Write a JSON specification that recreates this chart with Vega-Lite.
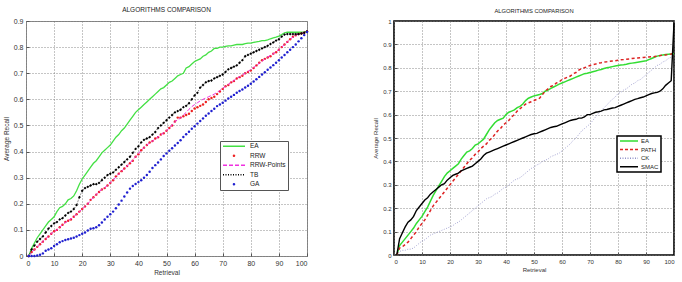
{
  "$schema": "https://vega.github.io/schema/vega-lite/v6.json",
  "background": "white",
  "padding": {"left": 2, "top": 6, "right": 0, "bottom": 0},
  "spacing": 60,
  "resolve": {"scale": {"color": "independent"}, "legend": {"color": "independent"}},
  "config": {
    "font": "Liberation Sans",
    "view": {"stroke": null},
    "title": {"fontSize": 6.5, "fontWeight": "normal", "color": "#222", "offset": 4, "font": "Liberation Sans"},
    "axis": {
      "labelFont": "Liberation Sans",
      "titleFont": "Liberation Sans",
      "labelColor": "#333",
      "titleColor": "#333",
      "titleFontWeight": "normal",
      "grid": true,
      "gridDash": [1, 2],
      "gridColor": "#777",
      "gridOpacity": 0.85,
      "domain": false,
      "tickSize": -3,
      "tickColor": "#555"
    },
    "legend": {
      "labelFont": "Liberation Sans",
      "labelColor": "#222",
      "fillColor": "#ffffff"
    }
  },
  "datasets": {
    "left": [
      {"x": 1, "EA": 0, "RRW": 0, "RRW-Points": 0, "TB": 0, "GA": 0},
      {"x": 2, "EA": 0.03, "RRW": 0.015, "RRW-Points": 0.013, "TB": 0.025, "GA": 0},
      {"x": 3, "EA": 0.05, "RRW": 0.025, "RRW-Points": 0.024, "TB": 0.04, "GA": 0},
      {"x": 4, "EA": 0.07, "RRW": 0.035, "RRW-Points": 0.034, "TB": 0.055, "GA": 0.002},
      {"x": 5, "EA": 0.085, "RRW": 0.045, "RRW-Points": 0.045, "TB": 0.065, "GA": 0.005},
      {"x": 6, "EA": 0.1, "RRW": 0.055, "RRW-Points": 0.056, "TB": 0.075, "GA": 0.01},
      {"x": 7, "EA": 0.115, "RRW": 0.065, "RRW-Points": 0.066, "TB": 0.09, "GA": 0.02},
      {"x": 8, "EA": 0.13, "RRW": 0.075, "RRW-Points": 0.076, "TB": 0.105, "GA": 0.025},
      {"x": 9, "EA": 0.14, "RRW": 0.085, "RRW-Points": 0.086, "TB": 0.115, "GA": 0.03},
      {"x": 10, "EA": 0.15, "RRW": 0.095, "RRW-Points": 0.094, "TB": 0.125, "GA": 0.038},
      {"x": 11, "EA": 0.17, "RRW": 0.1, "RRW-Points": 0.1, "TB": 0.13, "GA": 0.045},
      {"x": 12, "EA": 0.185, "RRW": 0.11, "RRW-Points": 0.11, "TB": 0.14, "GA": 0.053},
      {"x": 13, "EA": 0.19, "RRW": 0.12, "RRW-Points": 0.12, "TB": 0.145, "GA": 0.057},
      {"x": 14, "EA": 0.2, "RRW": 0.13, "RRW-Points": 0.128, "TB": 0.155, "GA": 0.061},
      {"x": 15, "EA": 0.215, "RRW": 0.135, "RRW-Points": 0.136, "TB": 0.165, "GA": 0.064},
      {"x": 16, "EA": 0.22, "RRW": 0.14, "RRW-Points": 0.142, "TB": 0.17, "GA": 0.067},
      {"x": 17, "EA": 0.23, "RRW": 0.15, "RRW-Points": 0.15, "TB": 0.18, "GA": 0.07},
      {"x": 18, "EA": 0.25, "RRW": 0.16, "RRW-Points": 0.16, "TB": 0.195, "GA": 0.075},
      {"x": 19, "EA": 0.275, "RRW": 0.17, "RRW-Points": 0.17, "TB": 0.225, "GA": 0.08},
      {"x": 20, "EA": 0.295, "RRW": 0.18, "RRW-Points": 0.18, "TB": 0.25, "GA": 0.085},
      {"x": 21, "EA": 0.31, "RRW": 0.19, "RRW-Points": 0.19, "TB": 0.26, "GA": 0.09},
      {"x": 22, "EA": 0.325, "RRW": 0.2, "RRW-Points": 0.2, "TB": 0.265, "GA": 0.098},
      {"x": 23, "EA": 0.34, "RRW": 0.215, "RRW-Points": 0.213, "TB": 0.27, "GA": 0.104},
      {"x": 24, "EA": 0.355, "RRW": 0.225, "RRW-Points": 0.225, "TB": 0.275, "GA": 0.106},
      {"x": 25, "EA": 0.365, "RRW": 0.235, "RRW-Points": 0.236, "TB": 0.275, "GA": 0.11},
      {"x": 26, "EA": 0.38, "RRW": 0.245, "RRW-Points": 0.247, "TB": 0.28, "GA": 0.118},
      {"x": 27, "EA": 0.395, "RRW": 0.255, "RRW-Points": 0.255, "TB": 0.29, "GA": 0.128},
      {"x": 28, "EA": 0.405, "RRW": 0.26, "RRW-Points": 0.262, "TB": 0.3, "GA": 0.14},
      {"x": 29, "EA": 0.415, "RRW": 0.27, "RRW-Points": 0.27, "TB": 0.31, "GA": 0.15},
      {"x": 30, "EA": 0.425, "RRW": 0.28, "RRW-Points": 0.28, "TB": 0.315, "GA": 0.16},
      {"x": 31, "EA": 0.44, "RRW": 0.29, "RRW-Points": 0.29, "TB": 0.32, "GA": 0.17},
      {"x": 32, "EA": 0.455, "RRW": 0.305, "RRW-Points": 0.303, "TB": 0.33, "GA": 0.183},
      {"x": 33, "EA": 0.465, "RRW": 0.315, "RRW-Points": 0.315, "TB": 0.34, "GA": 0.197},
      {"x": 34, "EA": 0.48, "RRW": 0.325, "RRW-Points": 0.325, "TB": 0.35, "GA": 0.212},
      {"x": 35, "EA": 0.49, "RRW": 0.335, "RRW-Points": 0.335, "TB": 0.36, "GA": 0.228},
      {"x": 36, "EA": 0.505, "RRW": 0.345, "RRW-Points": 0.345, "TB": 0.37, "GA": 0.243},
      {"x": 37, "EA": 0.52, "RRW": 0.355, "RRW-Points": 0.357, "TB": 0.38, "GA": 0.258},
      {"x": 38, "EA": 0.535, "RRW": 0.365, "RRW-Points": 0.368, "TB": 0.395, "GA": 0.268},
      {"x": 39, "EA": 0.55, "RRW": 0.38, "RRW-Points": 0.38, "TB": 0.41, "GA": 0.276},
      {"x": 40, "EA": 0.56, "RRW": 0.39, "RRW-Points": 0.392, "TB": 0.42, "GA": 0.283},
      {"x": 41, "EA": 0.57, "RRW": 0.405, "RRW-Points": 0.405, "TB": 0.435, "GA": 0.29},
      {"x": 42, "EA": 0.58, "RRW": 0.415, "RRW-Points": 0.415, "TB": 0.445, "GA": 0.3},
      {"x": 43, "EA": 0.59, "RRW": 0.425, "RRW-Points": 0.425, "TB": 0.45, "GA": 0.31},
      {"x": 44, "EA": 0.6, "RRW": 0.435, "RRW-Points": 0.433, "TB": 0.455, "GA": 0.323},
      {"x": 45, "EA": 0.61, "RRW": 0.44, "RRW-Points": 0.44, "TB": 0.465, "GA": 0.337},
      {"x": 46, "EA": 0.62, "RRW": 0.45, "RRW-Points": 0.448, "TB": 0.475, "GA": 0.348},
      {"x": 47, "EA": 0.63, "RRW": 0.455, "RRW-Points": 0.456, "TB": 0.49, "GA": 0.358},
      {"x": 48, "EA": 0.64, "RRW": 0.465, "RRW-Points": 0.464, "TB": 0.5, "GA": 0.37},
      {"x": 49, "EA": 0.645, "RRW": 0.47, "RRW-Points": 0.472, "TB": 0.51, "GA": 0.383},
      {"x": 50, "EA": 0.655, "RRW": 0.48, "RRW-Points": 0.48, "TB": 0.52, "GA": 0.393},
      {"x": 51, "EA": 0.665, "RRW": 0.49, "RRW-Points": 0.49, "TB": 0.53, "GA": 0.403},
      {"x": 52, "EA": 0.67, "RRW": 0.5, "RRW-Points": 0.502, "TB": 0.54, "GA": 0.413},
      {"x": 53, "EA": 0.68, "RRW": 0.515, "RRW-Points": 0.515, "TB": 0.55, "GA": 0.423},
      {"x": 54, "EA": 0.69, "RRW": 0.53, "RRW-Points": 0.522, "TB": 0.555, "GA": 0.433},
      {"x": 55, "EA": 0.695, "RRW": 0.53, "RRW-Points": 0.528, "TB": 0.56, "GA": 0.443},
      {"x": 56, "EA": 0.7, "RRW": 0.535, "RRW-Points": 0.54, "TB": 0.57, "GA": 0.456},
      {"x": 57, "EA": 0.72, "RRW": 0.54, "RRW-Points": 0.55, "TB": 0.575, "GA": 0.466},
      {"x": 58, "EA": 0.725, "RRW": 0.545, "RRW-Points": 0.562, "TB": 0.585, "GA": 0.476},
      {"x": 59, "EA": 0.735, "RRW": 0.555, "RRW-Points": 0.572, "TB": 0.6, "GA": 0.487},
      {"x": 60, "EA": 0.745, "RRW": 0.565, "RRW-Points": 0.58, "TB": 0.615, "GA": 0.497},
      {"x": 61, "EA": 0.75, "RRW": 0.57, "RRW-Points": 0.587, "TB": 0.625, "GA": 0.507},
      {"x": 62, "EA": 0.755, "RRW": 0.575, "RRW-Points": 0.594, "TB": 0.645, "GA": 0.517},
      {"x": 63, "EA": 0.765, "RRW": 0.58, "RRW-Points": 0.6, "TB": 0.655, "GA": 0.527},
      {"x": 64, "EA": 0.77, "RRW": 0.59, "RRW-Points": 0.605, "TB": 0.665, "GA": 0.537},
      {"x": 65, "EA": 0.78, "RRW": 0.6, "RRW-Points": 0.61, "TB": 0.67, "GA": 0.546},
      {"x": 66, "EA": 0.785, "RRW": 0.605, "RRW-Points": 0.615, "TB": 0.672, "GA": 0.555},
      {"x": 67, "EA": 0.795, "RRW": 0.61, "RRW-Points": 0.62, "TB": 0.68, "GA": 0.564},
      {"x": 68, "EA": 0.795, "RRW": 0.62, "RRW-Points": 0.627, "TB": 0.685, "GA": 0.574},
      {"x": 69, "EA": 0.8, "RRW": 0.63, "RRW-Points": 0.634, "TB": 0.69, "GA": 0.58},
      {"x": 70, "EA": 0.8, "RRW": 0.64, "RRW-Points": 0.642, "TB": 0.695, "GA": 0.587},
      {"x": 71, "EA": 0.803, "RRW": 0.65, "RRW-Points": 0.65, "TB": 0.705, "GA": 0.595},
      {"x": 72, "EA": 0.805, "RRW": 0.655, "RRW-Points": 0.657, "TB": 0.715, "GA": 0.603},
      {"x": 73, "EA": 0.805, "RRW": 0.665, "RRW-Points": 0.665, "TB": 0.72, "GA": 0.61},
      {"x": 74, "EA": 0.808, "RRW": 0.67, "RRW-Points": 0.672, "TB": 0.725, "GA": 0.617},
      {"x": 75, "EA": 0.81, "RRW": 0.68, "RRW-Points": 0.68, "TB": 0.73, "GA": 0.625},
      {"x": 76, "EA": 0.81, "RRW": 0.685, "RRW-Points": 0.687, "TB": 0.74, "GA": 0.632},
      {"x": 77, "EA": 0.81, "RRW": 0.69, "RRW-Points": 0.693, "TB": 0.75, "GA": 0.638},
      {"x": 78, "EA": 0.813, "RRW": 0.7, "RRW-Points": 0.7, "TB": 0.765, "GA": 0.645},
      {"x": 79, "EA": 0.815, "RRW": 0.705, "RRW-Points": 0.707, "TB": 0.77, "GA": 0.652},
      {"x": 80, "EA": 0.815, "RRW": 0.71, "RRW-Points": 0.714, "TB": 0.775, "GA": 0.66},
      {"x": 81, "EA": 0.818, "RRW": 0.72, "RRW-Points": 0.722, "TB": 0.78, "GA": 0.668},
      {"x": 82, "EA": 0.82, "RRW": 0.73, "RRW-Points": 0.73, "TB": 0.785, "GA": 0.677},
      {"x": 83, "EA": 0.822, "RRW": 0.74, "RRW-Points": 0.738, "TB": 0.79, "GA": 0.686},
      {"x": 84, "EA": 0.825, "RRW": 0.75, "RRW-Points": 0.746, "TB": 0.795, "GA": 0.695},
      {"x": 85, "EA": 0.825, "RRW": 0.755, "RRW-Points": 0.754, "TB": 0.8, "GA": 0.704},
      {"x": 86, "EA": 0.828, "RRW": 0.76, "RRW-Points": 0.762, "TB": 0.805, "GA": 0.713},
      {"x": 87, "EA": 0.832, "RRW": 0.765, "RRW-Points": 0.768, "TB": 0.812, "GA": 0.722},
      {"x": 88, "EA": 0.835, "RRW": 0.775, "RRW-Points": 0.775, "TB": 0.818, "GA": 0.731},
      {"x": 89, "EA": 0.838, "RRW": 0.78, "RRW-Points": 0.782, "TB": 0.825, "GA": 0.74},
      {"x": 90, "EA": 0.842, "RRW": 0.79, "RRW-Points": 0.79, "TB": 0.83, "GA": 0.75},
      {"x": 91, "EA": 0.848, "RRW": 0.8, "RRW-Points": 0.8, "TB": 0.84, "GA": 0.76},
      {"x": 92, "EA": 0.855, "RRW": 0.81, "RRW-Points": 0.81, "TB": 0.848, "GA": 0.77},
      {"x": 93, "EA": 0.857, "RRW": 0.82, "RRW-Points": 0.82, "TB": 0.85, "GA": 0.78},
      {"x": 94, "EA": 0.857, "RRW": 0.83, "RRW-Points": 0.83, "TB": 0.85, "GA": 0.79},
      {"x": 95, "EA": 0.857, "RRW": 0.84, "RRW-Points": 0.838, "TB": 0.85, "GA": 0.8},
      {"x": 96, "EA": 0.857, "RRW": 0.845, "RRW-Points": 0.845, "TB": 0.85, "GA": 0.81},
      {"x": 97, "EA": 0.857, "RRW": 0.85, "RRW-Points": 0.85, "TB": 0.85, "GA": 0.822},
      {"x": 98, "EA": 0.857, "RRW": 0.852, "RRW-Points": 0.853, "TB": 0.852, "GA": 0.834},
      {"x": 99, "EA": 0.858, "RRW": 0.855, "RRW-Points": 0.856, "TB": 0.855, "GA": 0.846},
      {"x": 100, "EA": 0.86, "RRW": 0.86, "RRW-Points": 0.86, "TB": 0.86, "GA": 0.858}
    ],
    "right": [
      {"x": 1, "EA": 0, "PATH": 0, "CK": 0, "SMAC": 0},
      {"x": 2, "EA": 0.04, "PATH": 0.03, "CK": 0.015, "SMAC": 0.07},
      {"x": 3, "EA": 0.055, "PATH": 0.035, "CK": 0.02, "SMAC": 0.095},
      {"x": 4, "EA": 0.07, "PATH": 0.045, "CK": 0.02, "SMAC": 0.12},
      {"x": 5, "EA": 0.085, "PATH": 0.055, "CK": 0.025, "SMAC": 0.14},
      {"x": 6, "EA": 0.1, "PATH": 0.07, "CK": 0.025, "SMAC": 0.15},
      {"x": 7, "EA": 0.115, "PATH": 0.085, "CK": 0.03, "SMAC": 0.165},
      {"x": 8, "EA": 0.135, "PATH": 0.1, "CK": 0.04, "SMAC": 0.19},
      {"x": 9, "EA": 0.15, "PATH": 0.12, "CK": 0.05, "SMAC": 0.205},
      {"x": 10, "EA": 0.165, "PATH": 0.135, "CK": 0.06, "SMAC": 0.22},
      {"x": 11, "EA": 0.185, "PATH": 0.15, "CK": 0.065, "SMAC": 0.235},
      {"x": 12, "EA": 0.205, "PATH": 0.17, "CK": 0.075, "SMAC": 0.245},
      {"x": 13, "EA": 0.23, "PATH": 0.19, "CK": 0.085, "SMAC": 0.26},
      {"x": 14, "EA": 0.255, "PATH": 0.21, "CK": 0.09, "SMAC": 0.27},
      {"x": 15, "EA": 0.275, "PATH": 0.225, "CK": 0.095, "SMAC": 0.28},
      {"x": 16, "EA": 0.295, "PATH": 0.24, "CK": 0.1, "SMAC": 0.29},
      {"x": 17, "EA": 0.315, "PATH": 0.255, "CK": 0.105, "SMAC": 0.3},
      {"x": 18, "EA": 0.335, "PATH": 0.27, "CK": 0.11, "SMAC": 0.305},
      {"x": 19, "EA": 0.35, "PATH": 0.285, "CK": 0.115, "SMAC": 0.32},
      {"x": 20, "EA": 0.36, "PATH": 0.3, "CK": 0.12, "SMAC": 0.33},
      {"x": 21, "EA": 0.37, "PATH": 0.315, "CK": 0.125, "SMAC": 0.34},
      {"x": 22, "EA": 0.38, "PATH": 0.33, "CK": 0.135, "SMAC": 0.345},
      {"x": 23, "EA": 0.39, "PATH": 0.345, "CK": 0.14, "SMAC": 0.35},
      {"x": 24, "EA": 0.41, "PATH": 0.36, "CK": 0.15, "SMAC": 0.36},
      {"x": 25, "EA": 0.425, "PATH": 0.375, "CK": 0.16, "SMAC": 0.365},
      {"x": 26, "EA": 0.44, "PATH": 0.39, "CK": 0.17, "SMAC": 0.37},
      {"x": 27, "EA": 0.445, "PATH": 0.405, "CK": 0.18, "SMAC": 0.375},
      {"x": 28, "EA": 0.455, "PATH": 0.415, "CK": 0.19, "SMAC": 0.38},
      {"x": 29, "EA": 0.47, "PATH": 0.43, "CK": 0.2, "SMAC": 0.39},
      {"x": 30, "EA": 0.475, "PATH": 0.44, "CK": 0.21, "SMAC": 0.4},
      {"x": 31, "EA": 0.485, "PATH": 0.455, "CK": 0.22, "SMAC": 0.41},
      {"x": 32, "EA": 0.495, "PATH": 0.465, "CK": 0.23, "SMAC": 0.425},
      {"x": 33, "EA": 0.515, "PATH": 0.475, "CK": 0.24, "SMAC": 0.435},
      {"x": 34, "EA": 0.535, "PATH": 0.49, "CK": 0.245, "SMAC": 0.44},
      {"x": 35, "EA": 0.55, "PATH": 0.5, "CK": 0.25, "SMAC": 0.445},
      {"x": 36, "EA": 0.565, "PATH": 0.515, "CK": 0.26, "SMAC": 0.45},
      {"x": 37, "EA": 0.575, "PATH": 0.53, "CK": 0.265, "SMAC": 0.455},
      {"x": 38, "EA": 0.58, "PATH": 0.54, "CK": 0.275, "SMAC": 0.46},
      {"x": 39, "EA": 0.585, "PATH": 0.555, "CK": 0.285, "SMAC": 0.465},
      {"x": 40, "EA": 0.6, "PATH": 0.565, "CK": 0.29, "SMAC": 0.47},
      {"x": 41, "EA": 0.61, "PATH": 0.575, "CK": 0.3, "SMAC": 0.475},
      {"x": 42, "EA": 0.615, "PATH": 0.59, "CK": 0.31, "SMAC": 0.48},
      {"x": 43, "EA": 0.62, "PATH": 0.6, "CK": 0.32, "SMAC": 0.485},
      {"x": 44, "EA": 0.63, "PATH": 0.615, "CK": 0.325, "SMAC": 0.49},
      {"x": 45, "EA": 0.635, "PATH": 0.625, "CK": 0.33, "SMAC": 0.495},
      {"x": 46, "EA": 0.645, "PATH": 0.635, "CK": 0.34, "SMAC": 0.5},
      {"x": 47, "EA": 0.66, "PATH": 0.645, "CK": 0.35, "SMAC": 0.505},
      {"x": 48, "EA": 0.67, "PATH": 0.65, "CK": 0.36, "SMAC": 0.51},
      {"x": 49, "EA": 0.675, "PATH": 0.655, "CK": 0.37, "SMAC": 0.515},
      {"x": 50, "EA": 0.68, "PATH": 0.66, "CK": 0.375, "SMAC": 0.518},
      {"x": 51, "EA": 0.683, "PATH": 0.665, "CK": 0.385, "SMAC": 0.52},
      {"x": 52, "EA": 0.686, "PATH": 0.67, "CK": 0.39, "SMAC": 0.525},
      {"x": 53, "EA": 0.69, "PATH": 0.685, "CK": 0.4, "SMAC": 0.53},
      {"x": 54, "EA": 0.7, "PATH": 0.7, "CK": 0.405, "SMAC": 0.535},
      {"x": 55, "EA": 0.705, "PATH": 0.71, "CK": 0.41, "SMAC": 0.54},
      {"x": 56, "EA": 0.712, "PATH": 0.72, "CK": 0.42, "SMAC": 0.545},
      {"x": 57, "EA": 0.718, "PATH": 0.725, "CK": 0.425, "SMAC": 0.548},
      {"x": 58, "EA": 0.724, "PATH": 0.735, "CK": 0.43, "SMAC": 0.55},
      {"x": 59, "EA": 0.73, "PATH": 0.74, "CK": 0.435, "SMAC": 0.555},
      {"x": 60, "EA": 0.735, "PATH": 0.75, "CK": 0.445, "SMAC": 0.56},
      {"x": 61, "EA": 0.74, "PATH": 0.755, "CK": 0.455, "SMAC": 0.565},
      {"x": 62, "EA": 0.745, "PATH": 0.76, "CK": 0.465, "SMAC": 0.57},
      {"x": 63, "EA": 0.75, "PATH": 0.765, "CK": 0.475, "SMAC": 0.575},
      {"x": 64, "EA": 0.755, "PATH": 0.775, "CK": 0.49, "SMAC": 0.578},
      {"x": 65, "EA": 0.76, "PATH": 0.78, "CK": 0.5, "SMAC": 0.58},
      {"x": 66, "EA": 0.765, "PATH": 0.79, "CK": 0.515, "SMAC": 0.585},
      {"x": 67, "EA": 0.77, "PATH": 0.797, "CK": 0.53, "SMAC": 0.585},
      {"x": 68, "EA": 0.775, "PATH": 0.8, "CK": 0.54, "SMAC": 0.59},
      {"x": 69, "EA": 0.777, "PATH": 0.805, "CK": 0.55, "SMAC": 0.6},
      {"x": 70, "EA": 0.78, "PATH": 0.81, "CK": 0.56, "SMAC": 0.6},
      {"x": 71, "EA": 0.783, "PATH": 0.813, "CK": 0.575, "SMAC": 0.605},
      {"x": 72, "EA": 0.786, "PATH": 0.816, "CK": 0.59, "SMAC": 0.61},
      {"x": 73, "EA": 0.79, "PATH": 0.82, "CK": 0.605, "SMAC": 0.612},
      {"x": 74, "EA": 0.793, "PATH": 0.822, "CK": 0.615, "SMAC": 0.615},
      {"x": 75, "EA": 0.797, "PATH": 0.825, "CK": 0.63, "SMAC": 0.62},
      {"x": 76, "EA": 0.8, "PATH": 0.826, "CK": 0.64, "SMAC": 0.622},
      {"x": 77, "EA": 0.802, "PATH": 0.828, "CK": 0.655, "SMAC": 0.625},
      {"x": 78, "EA": 0.805, "PATH": 0.829, "CK": 0.665, "SMAC": 0.628},
      {"x": 79, "EA": 0.808, "PATH": 0.83, "CK": 0.675, "SMAC": 0.63},
      {"x": 80, "EA": 0.81, "PATH": 0.832, "CK": 0.69, "SMAC": 0.635},
      {"x": 81, "EA": 0.812, "PATH": 0.834, "CK": 0.695, "SMAC": 0.64},
      {"x": 82, "EA": 0.813, "PATH": 0.835, "CK": 0.705, "SMAC": 0.645},
      {"x": 83, "EA": 0.815, "PATH": 0.837, "CK": 0.71, "SMAC": 0.65},
      {"x": 84, "EA": 0.818, "PATH": 0.838, "CK": 0.72, "SMAC": 0.655},
      {"x": 85, "EA": 0.82, "PATH": 0.84, "CK": 0.73, "SMAC": 0.66},
      {"x": 86, "EA": 0.822, "PATH": 0.841, "CK": 0.735, "SMAC": 0.665},
      {"x": 87, "EA": 0.824, "PATH": 0.842, "CK": 0.745, "SMAC": 0.668},
      {"x": 88, "EA": 0.826, "PATH": 0.843, "CK": 0.75, "SMAC": 0.672},
      {"x": 89, "EA": 0.828, "PATH": 0.844, "CK": 0.76, "SMAC": 0.675},
      {"x": 90, "EA": 0.83, "PATH": 0.845, "CK": 0.77, "SMAC": 0.68},
      {"x": 91, "EA": 0.835, "PATH": 0.846, "CK": 0.78, "SMAC": 0.685},
      {"x": 92, "EA": 0.84, "PATH": 0.847, "CK": 0.79, "SMAC": 0.69},
      {"x": 93, "EA": 0.845, "PATH": 0.848, "CK": 0.8, "SMAC": 0.693},
      {"x": 94, "EA": 0.85, "PATH": 0.85, "CK": 0.81, "SMAC": 0.695},
      {"x": 95, "EA": 0.853, "PATH": 0.852, "CK": 0.815, "SMAC": 0.7},
      {"x": 96, "EA": 0.855, "PATH": 0.854, "CK": 0.825, "SMAC": 0.71},
      {"x": 97, "EA": 0.857, "PATH": 0.855, "CK": 0.83, "SMAC": 0.725},
      {"x": 98, "EA": 0.858, "PATH": 0.857, "CK": 0.84, "SMAC": 0.735},
      {"x": 99, "EA": 0.859, "PATH": 0.859, "CK": 0.845, "SMAC": 0.745},
      {"x": 100, "EA": 0.86, "PATH": 0.862, "CK": 0.85, "SMAC": 0.99}
    ]
  },
  "hconcat": [
    {
      "width": 281,
      "height": 235,
      "title": {"text": "ALGORITHMS COMPARISON", "fontSize": 6.5},
      "view": {"stroke": "#8a8a8a", "strokeWidth": 1},
      "data": {"name": "left"},
      "transform": [{"fold": ["EA", "RRW", "RRW-Points", "TB", "GA"], "as": ["series", "recall"]}],
      "encoding": {
        "x": {
          "field": "x", "type": "quantitative",
          "scale": {"domain": [0, 100], "nice": false},
          "axis": {"title": "Retrieval", "values": [0, 10, 20, 30, 40, 50, 60, 70, 80, 90, 100],
                   "labelFontSize": 7, "titleFontSize": 6.5, "labelPadding": 6, "titlePadding": 3}
        },
        "y": {
          "field": "recall", "type": "quantitative",
          "scale": {"domain": [0, 0.9], "nice": false},
          "axis": {"title": "Average Recall", "values": [0, 0.1, 0.2, 0.3, 0.4, 0.5, 0.6, 0.7, 0.8, 0.9],
                   "format": "~g", "labelFontSize": 7, "titleFontSize": 6.5, "labelPadding": 6, "titlePadding": 4}
        },
        "color": {
          "field": "series", "type": "nominal",
          "scale": {"domain": ["EA", "RRW", "RRW-Points", "TB", "GA"],
                    "range": ["#44e044", "#ee2222", "#f030e0", "#000000", "#2020d0"]},
          "legend": {
            "title": null, "orient": "none", "legendX": 194, "legendY": 120,
            "strokeColor": "#555", "padding": 2, "labelFontSize": 6.5, "labelOffset": 4,
            "clipHeight": 6.5, "rowPadding": 2.5,
            "encode": {
              "symbols": {
                "update": {
                  "shape": {"signal": "datum.value === 'RRW' || datum.value === 'GA' ? 'M-0.06,0A0.06,0.06,0,1,1,0.06,0A0.06,0.06,0,1,1,-0.06,0Z' : 'stroke'"},
                  "size": {"value": 484},
                  "strokeWidth": {"value": 1.3},
                  "strokeDash": {"signal": "datum.value === 'RRW-Points' ? [4, 2] : datum.value === 'TB' ? [1, 1.5] : [1, 0]"},
                  "fill": {"signal": "datum.value === 'RRW' ? '#ee2222' : datum.value === 'GA' ? '#2020d0' : 'transparent'"},
                  "opacity": {"value": 1}
                }
              }
            }
          }
        }
      },
      "layer": [
        {"transform": [{"filter": "datum.series === 'EA'"}], "mark": {"type": "line", "strokeWidth": 1.3}},
        {"transform": [{"filter": "datum.series === 'RRW'"}], "mark": {"type": "point", "filled": true, "size": 6, "opacity": 1}},
        {"transform": [{"filter": "datum.series === 'RRW-Points'"}], "mark": {"type": "line", "strokeDash": [4, 2], "strokeWidth": 1}},
        {"transform": [{"filter": "datum.series === 'TB'"}], "mark": {"type": "line", "strokeDash": [1, 1.5], "strokeWidth": 0.8}},
        {"transform": [{"filter": "datum.series === 'TB'"}], "mark": {"type": "point", "filled": true, "size": 8, "shape": "diamond", "opacity": 1}},
        {"transform": [{"filter": "datum.series === 'GA'"}], "mark": {"type": "point", "filled": true, "size": 6, "opacity": 1}}
      ]
    },
    {
      "width": 280,
      "height": 234,
      "title": {"text": "ALGORITHMS COMPARISON", "fontSize": 5.8},
      "view": {"stroke": "#000000", "strokeWidth": 1.6},
      "data": {"name": "right"},
      "transform": [{"fold": ["EA", "PATH", "CK", "SMAC"], "as": ["method", "recall"]}],
      "encoding": {
        "x": {
          "field": "x", "type": "quantitative",
          "scale": {"domain": [0, 100], "nice": false},
          "axis": {"title": "Retrieval", "values": [0, 10, 20, 30, 40, 50, 60, 70, 80, 90, 100],
                   "labelFontSize": 6, "titleFontSize": 6, "labelPadding": 6, "titlePadding": 2}
        },
        "y": {
          "field": "recall", "type": "quantitative",
          "scale": {"domain": [0, 1], "nice": false},
          "axis": {"title": "Average Recall", "values": [0, 0.1, 0.2, 0.3, 0.4, 0.5, 0.6, 0.7, 0.8, 0.9, 1],
                   "format": "~g", "labelFontSize": 6, "titleFontSize": 6, "labelPadding": 6, "titlePadding": 4}
        },
        "color": {
          "field": "method", "type": "nominal",
          "scale": {"domain": ["EA", "PATH", "CK", "SMAC"],
                    "range": ["#33dd33", "#dd2222", "#9090c8", "#000000"]},
          "legend": {
            "title": null, "orient": "none", "legendX": 223, "legendY": 115,
            "strokeColor": "#000", "padding": 2, "labelFontSize": 6, "labelOffset": 2,
            "clipHeight": 6, "rowPadding": 2.6,
            "encode": {
              "legend": {"update": {"strokeWidth": {"value": 1.5}}},
              "symbols": {
                "update": {
                  "shape": {"value": "stroke"},
                  "size": {"value": 324},
                  "strokeWidth": {"value": 1.5},
                  "strokeDash": {"signal": "datum.value === 'PATH' ? [3, 2] : datum.value === 'CK' ? [1, 1.5] : [1, 0]"},
                  "opacity": {"value": 1}
                }
              }
            }
          }
        }
      },
      "layer": [
        {"transform": [{"filter": "datum.method === 'EA'"}], "mark": {"type": "line", "strokeWidth": 1.5}},
        {"transform": [{"filter": "datum.method === 'PATH'"}], "mark": {"type": "line", "strokeDash": [3, 2.5], "strokeWidth": 1.5}},
        {"transform": [{"filter": "datum.method === 'CK'"}], "mark": {"type": "line", "strokeDash": [1, 1.5], "strokeWidth": 0.8}},
        {"transform": [{"filter": "datum.method === 'SMAC'"}], "mark": {"type": "line", "strokeWidth": 1.4}}
      ]
    }
  ]
}
